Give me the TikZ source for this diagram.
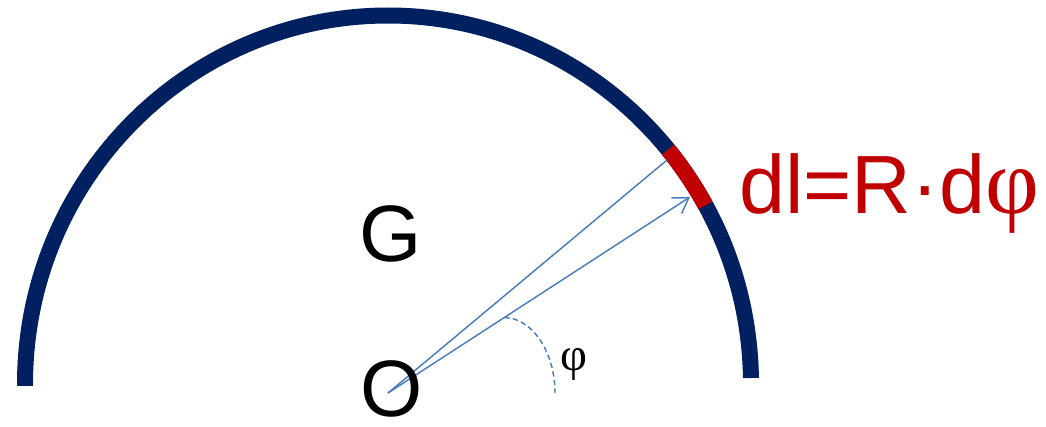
\documentclass[tikz,border=0pt]{standalone}
\usepackage{fontspec}
\setmainfont{Liberation Sans}
\newfontfamily\phifont{Liberation Serif}
\usetikzlibrary{arrows.meta,calc}
\definecolor{arcnavy}{RGB}{0,32,96}
\definecolor{dlred}{RGB}{192,0,0}
\definecolor{rayblue}{RGB}{74,126,187}
\begin{document}
\begin{tikzpicture}[x=0.75pt,y=0.75pt,
  rim/.style={draw=arcnavy,line width=12pt,line cap=butt},
  piece/.style={draw=dlred,line width=12pt,line cap=butt},
  ray/.style={draw=rayblue,line width=1.1pt},
  anglemark/.style={draw=rayblue,line width=1.1pt,dash pattern=on 4pt off 2.5pt},
  biglabel/.style={inner sep=0pt,font=\fontsize{60}{60}\selectfont},
  redlabel/.style={inner sep=0pt,text=dlred,font=\fontsize{62}{62}\selectfont},
  philabel/.style={inner sep=0pt,font=\phifont\fontsize{35}{35}\selectfont}]
\useasboundingbox (0,0) rectangle (1046,427);
\coordinate (C) at (388,43);
\coordinate (O) at (388,34);
\coordinate (P1) at (667,267);
\coordinate (P2) at (690,230);
\coordinate (D1) at ($(O)!0.385!(P2)$);
\coordinate (D2) at (555,34);
% main arc
\draw[rim] ([shift={(0.93:363 and 368.5)}]C) arc[start angle=0.93,end angle=180.3,x radius=363,y radius=368.5];
% element dl
\draw[piece] ([shift={(29:363 and 368.5)}]C) arc[start angle=29,end angle=39.5,x radius=363,y radius=368.5];
% rays
\draw[ray] (O) -- (P1);
\draw[ray,-{Straight Barb[length=11pt,width=14pt]}] (O) -- (P2);
% angle
\draw[anglemark] (D1) .. controls +(27,0) and +(0,42) .. (D2);
% labels
\node[biglabel] (G) at (391,193.5) {G};
\node[biglabel] (Olab) at (392,38) {O};
\node[redlabel,anchor=base west] (dl) at (739,213) {dl=R·d{\phifont\fontsize{70}{70}\selectfont φ}};
\node[philabel] (phi) at (574,63) {φ};
\end{tikzpicture}
\end{document}
